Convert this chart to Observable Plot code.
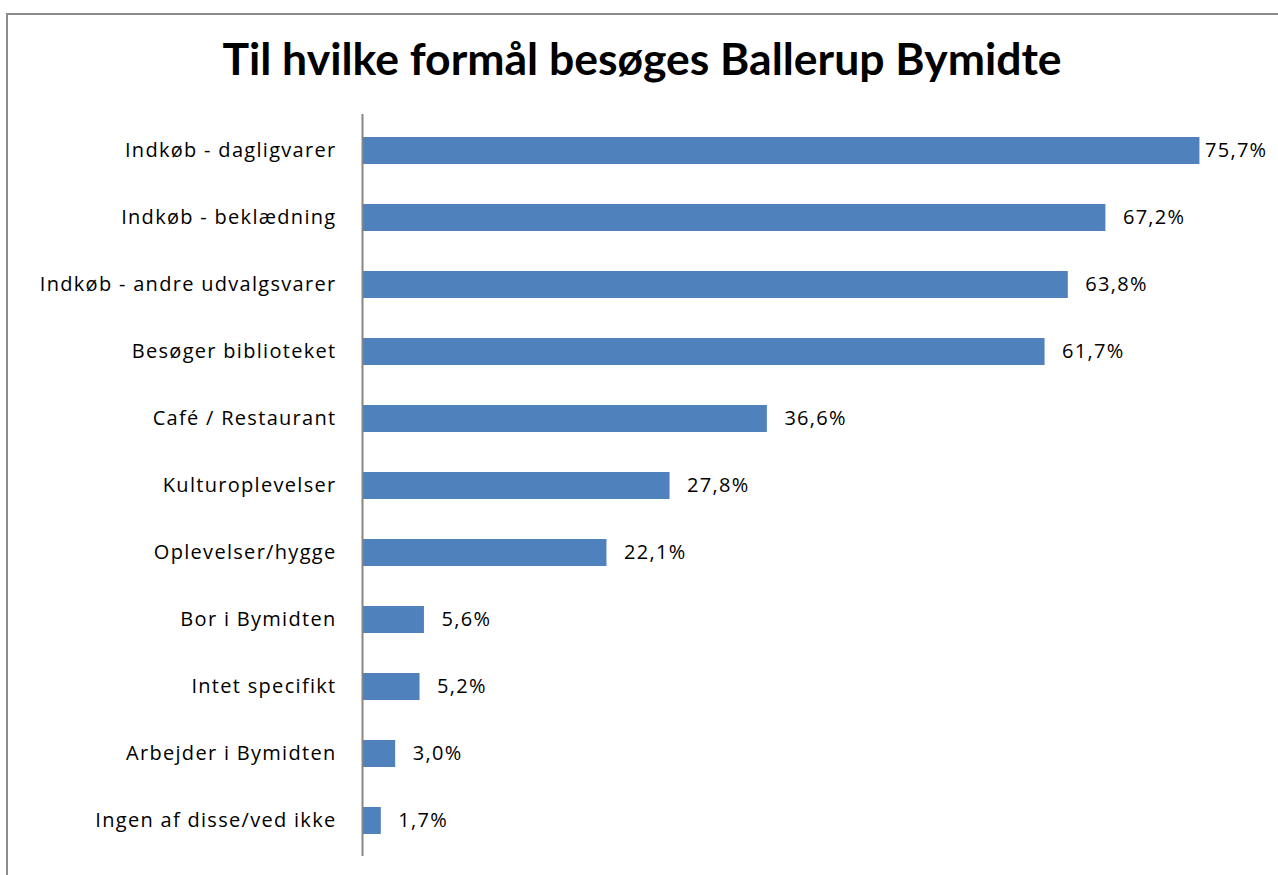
<!DOCTYPE html>
<html>
<head>
<meta charset="utf-8">
<script src="https://cdn.jsdelivr.net/npm/d3@7"></script>
<script src="https://cdn.jsdelivr.net/npm/@observablehq/plot@0.6"></script>
<style>
  html, body { margin: 0; padding: 0; background: #fff; overflow: hidden; width: 1278px; height: 875px; }
  #frame { position: absolute; left: 6px; top: 13px; width: 1290px; height: 880px;
           border-left: 2px solid #8c8c8c; border-top: 2px solid #8c8c8c; box-sizing: border-box; }
  #title { position: absolute; left: 0; top: 32px; width: 1284px; text-align: center;
           font-family: Lato, sans-serif; font-weight: bold; font-size: 44.5px; line-height: 52px; color: #000; }
  #chart { position: absolute; left: 0; top: 100px; }
</style>
</head>
<body>
<div id="frame"></div>
<div id="title">Til hvilke formål besøges Ballerup Bymidte</div>
<div id="chart"></div>
<script>
const categories = [
  "Indkøb - dagligvarer",
  "Indkøb - beklædning",
  "Indkøb - andre udvalgsvarer",
  "Besøger biblioteket",
  "Café / Restaurant",
  "Kulturoplevelser",
  "Oplevelser/hygge",
  "Bor i Bymidten",
  "Intet specifikt",
  "Arbejder i Bymidten",
  "Ingen af disse/ved ikke"
];
const values = [75.7, 67.2, 63.8, 61.7, 36.6, 27.8, 22.1, 5.6, 5.2, 3.0, 1.7];

const data = categories.map((c, i) => ({category: c, value: values[i]}));
const fmt = v => d3.format(".1f")(v).replace(".", ",") + "%";
const maxVal = d3.max(values);

const chart = Plot.plot({
  width: 1278,
  height: 775,
  marginLeft: 362,
  marginRight: 31,
  marginTop: 14,
  marginBottom: 19,
  style: {fontFamily: "'Open Sans', sans-serif", fontSize: "20px", letterSpacing: "1.3px", color: "#000", background: "transparent"},
  x: {domain: [0, 80], axis: null},
  y: {domain: categories, paddingInner: 0.6, paddingOuter: 0.3, label: null, tickSize: 0, tickPadding: 26},
  marks: [
    Plot.barX(data, {x: "value", y: "category", fill: "#4F81BD"}),
    Plot.text(data.filter(d => d.value === maxVal), {x: "value", y: "category", text: d => fmt(d.value), textAnchor: "start", dx: 5, fill: "#000", fontSize: 20}),
    Plot.text(data.filter(d => d.value !== maxVal), {x: "value", y: "category", text: d => fmt(d.value), textAnchor: "start", dx: 17, fill: "#000", fontSize: 20}),
    Plot.ruleX([0], {stroke: "#868686", strokeWidth: 2})
  ]
});
document.getElementById("chart").appendChild(chart);
</script>
</body>
</html>
